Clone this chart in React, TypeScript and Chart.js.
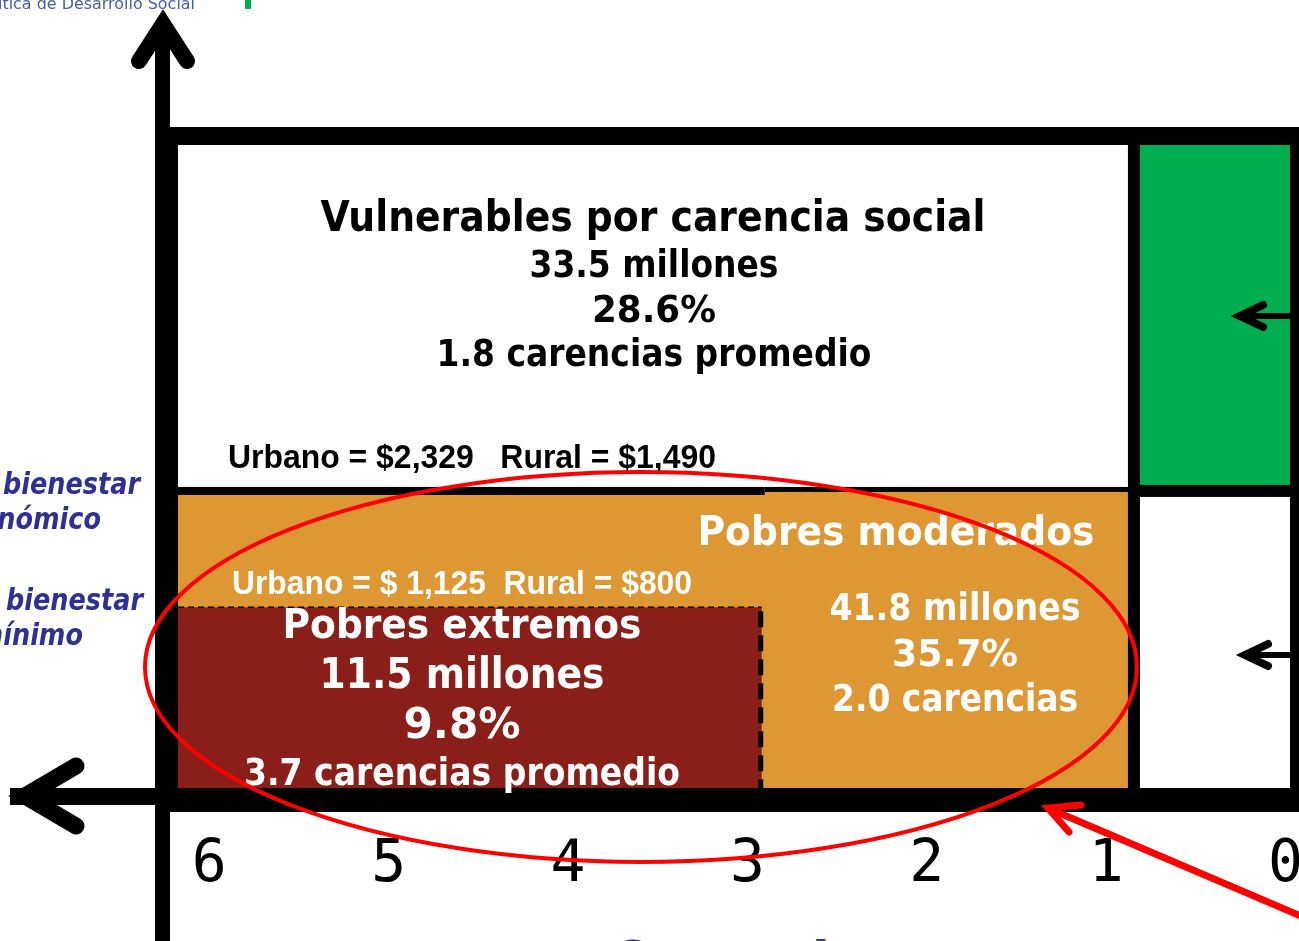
import React, { useEffect, useRef } from "react";
import { Chart, registerables } from "chart.js";

Chart.register(...registerables);

// ---- Data ----
// x axis: number of social deprivations (carencias), shown reversed (6 ... 0)
const carenciasTicks = [6, 5, 4, 3, 2, 1, 0];
const xAxisMax = 6.174; // left edge of the plane
const xAxisMin = -0.025; // right edge of the plane
// deprivation thresholds as read on the axis: [income-vulnerable divider, extreme-poverty cut]
const umbralCarencias = [0.845, 2.92];
// y axis: income (abstract units), and the two well-being lines
const yAxisMin = 0;
const yAxisMax = 10;
const lineasBienestar = [4.62, 2.81]; // económico, mínimo
const lineasNombre1 = ["Línea de bienestar", "Línea de bienestar"];
const lineasNombre2 = ["económico", "mínimo"];
const lineaUrbano = [2329, 1125];
const lineaRural = [1490, 800];
// groups
const grupos = ["Vulnerables por carencia social", "Pobres moderados", "Pobres extremos"];
const millones = [33.5, 41.8, 11.5];
const porcentajes = [28.6, 35.7, 9.8];
const carenciasPromedio = [1.8, 2.0, 3.7];
const carenciasSufijo = [" carencias promedio", " carencias", " carencias promedio"];

const COLORS = {
  orange: "#DD9833",
  darkRed: "#8A1E19",
  green: "#00AE4F",
  blue: "#2E3192",
  red: "#FF0000",
};

const fmt = (n: number) => n.toLocaleString("en-US");

function fitText(
  ctx: CanvasRenderingContext2D,
  text: string,
  x: number,
  baseline: number,
  font: string,
  width: number,
  color: string,
  align: CanvasTextAlign = "center",
  measureText?: string
) {
  ctx.save();
  ctx.font = font;
  const w = ctx.measureText(measureText ?? text).width;
  const s = width / w;
  ctx.translate(x, baseline);
  ctx.scale(s, 1);
  ctx.textAlign = align;
  ctx.textBaseline = "alphabetic";
  ctx.fillStyle = color;
  ctx.fillText(text, 0, 0);
  ctx.restore();
}

function polyline(ctx: CanvasRenderingContext2D, pts: number[][], lw: number, color: string, cap: CanvasLineCap = "round") {
  ctx.save();
  ctx.beginPath();
  ctx.moveTo(pts[0][0], pts[0][1]);
  for (let i = 1; i < pts.length; i++) ctx.lineTo(pts[i][0], pts[i][1]);
  ctx.lineWidth = lw;
  ctx.strokeStyle = color;
  ctx.lineCap = cap;
  ctx.lineJoin = "miter";
  ctx.miterLimit = 10;
  ctx.stroke();
  ctx.restore();
}

const diagramPlugin = {
  id: "pobrezaDiagram",
  afterDraw(chart: any) {
    const { ctx, chartArea, scales } = chart;
    const xs = scales.x;
    const ys = scales.y;
    const L = chartArea.left;
    const R = chartArea.right;
    const T = chartArea.top;
    const B = chartArea.bottom;
    const xDiv = xs.getPixelForValue(umbralCarencias[0]);
    const xExt = xs.getPixelForValue(umbralCarencias[1]);
    const yEco = ys.getPixelForValue(lineasBienestar[0]);
    const yMin = ys.getPixelForValue(lineasBienestar[1]);
    const yTop = ys.getPixelForValue(yAxisMax);
    const yBot = ys.getPixelForValue(yAxisMin);
    const xLeft = xs.getPixelForValue(xAxisMax);
    const xRight = xs.getPixelForValue(xAxisMin);

    ctx.save();
    // --- regions ---
    ctx.fillStyle = "#FFFFFF";
    ctx.fillRect(xLeft, yTop, xDiv - xLeft, yEco - yTop);
    ctx.fillStyle = COLORS.orange;
    ctx.fillRect(xLeft, yEco, xDiv - xLeft, yBot - yEco);
    ctx.fillStyle = COLORS.darkRed;
    ctx.fillRect(xLeft, yMin, xExt - xLeft, yBot - yMin);
    ctx.fillStyle = COLORS.green;
    ctx.fillRect(xDiv, yTop, xRight - xDiv, yEco - yTop);
    ctx.fillStyle = "#FFFFFF";
    ctx.fillRect(xDiv, yEco, xRight - xDiv, yBot - yEco);

    // --- frame ---
    ctx.fillStyle = "#000000";
    ctx.fillRect(L - 21, T - 18, R - L + 40, 18); // top
    ctx.fillRect(L - 21, T - 18, 21, B - T + 42); // left
    ctx.fillRect(L - 21, B, R - L + 40, 24); // bottom
    ctx.fillRect(R, T - 18, 20, B - T + 42); // right
    // divider between poor / income-vulnerable
    ctx.fillRect(xDiv - 6, T, 12, B - T);
    // línea de bienestar económico
    ctx.fillRect(L, yEco - 4, xExt + 3 - L, 8);
    ctx.fillRect(xExt + 3, yEco - 4, xDiv - xExt - 3, 5);
    ctx.fillRect(xDiv, yEco - 6, R - xDiv, 12);

    // línea de bienestar mínimo (dashed) around extreme poverty
    ctx.setLineDash([6, 4]);
    ctx.lineWidth = 1.6;
    ctx.strokeStyle = "#000";
    ctx.beginPath();
    ctx.moveTo(L, yMin);
    ctx.lineTo(xExt, yMin);
    ctx.stroke();
    ctx.setLineDash([16, 8]);
    ctx.lineWidth = 5;
    ctx.beginPath();
    ctx.moveTo(xExt - 1, yMin + 4);
    ctx.lineTo(xExt - 1, B);
    ctx.stroke();
    ctx.setLineDash([]);
    ctx.restore();

    // --- axis arrows ---
    ctx.fillStyle = "#000";
    ctx.fillRect(L - 23, 22, 15, 941 - 22);
    polyline(ctx, [[139, 61], [163, 24], [187, 61]], 16, "#000");
    ctx.fillRect(10, B, L - 10, 17);
    polyline(ctx, [[76, 766], [25, 796], [76, 826]], 17, "#000");

    // small arrows in right column
    polyline(ctx, [[1299, 316], [1246, 316]], 6, "#000", "butt");
    polyline(ctx, [[1263, 305], [1240, 316], [1263, 327]], 8, "#000");
    polyline(ctx, [[1299, 655], [1250, 655]], 6, "#000", "butt");
    polyline(ctx, [[1268, 644], [1245, 655], [1268, 666]], 8, "#000");

    // --- tick labels ---
    ctx.save();
    ctx.font = "58px 'DejaVu Sans Mono'";
    ctx.textAlign = "center";
    ctx.textBaseline = "alphabetic";
    ctx.fillStyle = "#000";
    carenciasTicks.forEach((v) => {
      ctx.fillText(String(v), xs.getPixelForValue(v), B + 93);
    });
    ctx.restore();

    // --- texts ---
    const F = (s: number) => `bold ${s}px 'DejaVu Sans'`;
    const cVul = (xLeft + xDiv) / 2 - 3;
    fitText(ctx, grupos[0], cVul, 231, F(43), 665, "#000");
    fitText(ctx, `${millones[0].toFixed(1)} millones`, cVul + 1, 277, F(37), 249, "#000");
    fitText(ctx, `${porcentajes[0].toFixed(1)}%`, cVul + 1, 322, F(37), 124, "#000");
    fitText(ctx, `${carenciasPromedio[0].toFixed(1)}${carenciasSufijo[0]}`, cVul + 1, 366, F(37), 435, "#000");

    const A = (s: number) => `bold ${s}px 'Liberation Sans'`;
    fitText(
      ctx,
      `Urbano = $${fmt(lineaUrbano[0])}   Rural = $${fmt(lineaRural[0])}`,
      xLeft + 50,
      yEco - 23,
      A(33),
      488,
      "#000",
      "left"
    );
    fitText(
      ctx,
      `Urbano = $ ${fmt(lineaUrbano[1])}  Rural = $${fmt(lineaRural[1])}`,
      xLeft + 54,
      yMin - 13,
      A(33),
      460,
      "#FFF",
      "left"
    );

    fitText(ctx, grupos[1], 896, 545, F(41), 397, "#FFF");
    const cMod = 955;
    fitText(ctx, `${millones[1].toFixed(1)} millones`, cMod, 620, F(37), 251, "#FFF");
    fitText(ctx, `${porcentajes[1].toFixed(1)}%`, cMod, 666, F(37), 126, "#FFF");
    fitText(ctx, `${carenciasPromedio[1].toFixed(1)}${carenciasSufijo[1]}`, cMod, 711, F(37), 246, "#FFF");

    const cExt = 462;
    fitText(ctx, grupos[2], cExt, 638, F(40), 359, "#FFF");
    fitText(ctx, `${millones[2].toFixed(1)} millones`, cExt, 688, F(42), 285, "#FFF");
    fitText(ctx, `${porcentajes[2].toFixed(1)}%`, cExt, 738, F(42), 117, "#FFF");
    fitText(ctx, `${carenciasPromedio[2].toFixed(1)}${carenciasSufijo[2]}`, cExt, 785, F(37), 436, "#FFF");

    // left labels of the well-being lines
    const BI = "italic bold 30px 'DejaVu Sans'";
    const labelY = [yEco, yMin];
    const line1Right = [140, 143];
    const line2Right = [101, 83];
    for (let i = 0; i < 2; i++) {
      fitText(ctx, lineasNombre1[i], line1Right[i], labelY[i] + 3, BI, 137, COLORS.blue, "right", "bienestar");
      fitText(ctx, lineasNombre2[i], line2Right[i], labelY[i] + 38, BI, 137, COLORS.blue, "right", "bienestar");
    }

    // header fragment and footer title (cropped)
    fitText(
      ctx,
      "Consejo Nacional de Evaluación de la Política de Desarrollo Social",
      195,
      9,
      "15px 'DejaVu Sans'",
      197,
      "#4B5CA6",
      "right",
      "ítica de Desarrollo Social"
    );
    ctx.fillStyle = COLORS.green;
    ctx.fillRect(245, 0, 6, 9);
    ctx.save();
    ctx.font = "bold 52px 'DejaVu Sans'";
    ctx.fillStyle = COLORS.blue;
    ctx.textAlign = "left";
    ctx.fillText("Carencias", 610, 978);
    ctx.restore();

    // --- red highlight ellipse and arrow ---
    ctx.save();
    ctx.beginPath();
    ctx.ellipse(641, 667, 496, 195, 0, 0, Math.PI * 2);
    ctx.lineWidth = 4;
    ctx.strokeStyle = COLORS.red;
    ctx.stroke();
    ctx.restore();
    polyline(ctx, [[1310, 920], [1050, 809]], 7, COLORS.red);
    polyline(ctx, [[1081, 805], [1048, 808], [1069, 832]], 7, COLORS.red);
  },
};

export default function App() {
  const canvasRef = useRef<HTMLCanvasElement | null>(null);

  useEffect(() => {
    const canvas = canvasRef.current;
    if (!canvas) return;
    const chart = new Chart(canvas, {
      type: "scatter",
      data: { datasets: [] },
      options: {
        responsive: false,
        animation: false,
        layout: { padding: { left: 178, right: 9, top: 145, bottom: 153 } },
        scales: {
          x: { type: "linear", reverse: true, min: xAxisMin, max: xAxisMax, display: false },
          y: { type: "linear", min: yAxisMin, max: yAxisMax, display: false },
        },
        plugins: { legend: { display: false }, tooltip: { enabled: false } },
      },
      plugins: [diagramPlugin],
    });
    return () => chart.destroy();
  }, []);

  return (
    <div style={{ position: "absolute", left: 0, top: 0, width: 1299, height: 941, background: "#fff" }}>
      <canvas ref={canvasRef} width={1299} height={941} style={{ display: "block" }} />
    </div>
  );
}
